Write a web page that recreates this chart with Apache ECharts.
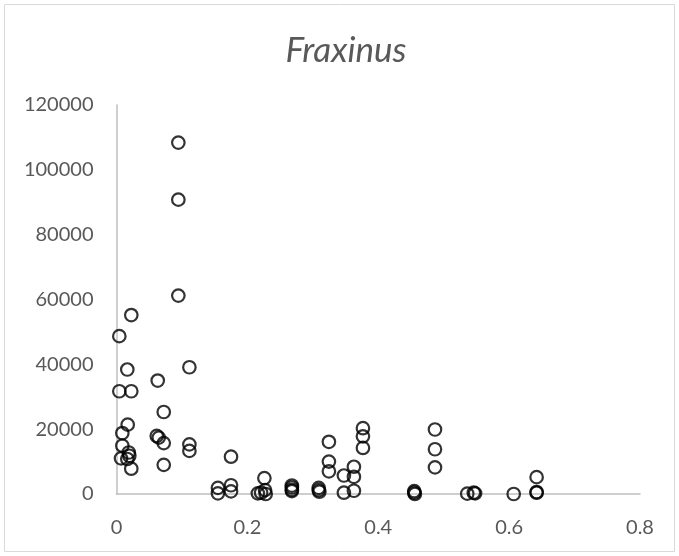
<!DOCTYPE html>
<html>
<head>
<meta charset="utf-8">
<script src="https://cdn.jsdelivr.net/npm/echarts@6/dist/echarts.min.js"></script>
<style>
  html, body { margin: 0; padding: 0; background: #fff; }
  #chart { width: 679px; height: 556px; }
</style>
</head>
<body>
<div id="chart"></div>
<script>
// Fraxinus: one x value and one y value per sample
const xValues = [
  0.0945, 0.0945, 0.0945, 0.0226, 0.0043, 0.0165, 0.1114, 0.063, 0.0043, 0.0226,
  0.0722, 0.0171, 0.0089, 0.0615, 0.0646, 0.0722, 0.1114, 0.1114, 0.0089, 0.0187,
  0.0196, 0.0069, 0.0165, 0.0226, 0.0722, 0.175,
  0.155, 0.155, 0.175, 0.175,
  0.216, 0.221, 0.227, 0.228, 0.226,
  0.268, 0.268, 0.268, 0.268,
  0.309, 0.309, 0.31,
  0.3246, 0.3246, 0.3246,
  0.3475, 0.3475,
  0.3628, 0.3628, 0.3628,
  0.3766, 0.3766, 0.3766,
  0.455, 0.455, 0.456,
  0.4867, 0.4867, 0.4867,
  0.536, 0.546, 0.548,
  0.607,
  0.642, 0.642, 0.642
];
const yValues = [
  108400, 90800, 61200, 55200, 48700, 38400, 39100, 35000, 31700, 31700,
  25300, 21400, 18800, 17900, 17400, 15700, 15300, 13300, 14900, 12800,
  11800, 11000, 10800, 7800, 9000, 11500,
  1900, 200, 2700, 800,
  200, 400, 1200, 0, 4900,
  2600, 2000, 1300, 900,
  1900, 1200, 700,
  16100, 10000, 7000,
  5700, 400,
  8400, 5300, 1000,
  20300, 17800, 14200,
  900, 400, 0,
  19900, 13800, 8200,
  100, 400, 200,
  0,
  5200, 600, 400
];
const titleText = 'Fraxinus';

const points = xValues.map((x, i) => [x, yValues[i]]);
const textColor = '#595959';
const axisColor = '#bfbfbf';
const fontFamily = 'Lato, "Open Sans", sans-serif';

const chart = echarts.init(document.getElementById('chart'), null, { renderer: 'canvas' });
chart.setOption({
  backgroundColor: '#ffffff',
  animation: false,
  title: {
    text: titleText,
    left: 341,
    textAlign: 'center',
    top: 28,
    textStyle: {
      color: textColor,
      fontSize: 35,
      fontStyle: 'italic',
      fontWeight: 'normal',
      fontFamily: fontFamily
    }
  },
  graphic: [{
    type: 'rect',
    shape: { x: 4.5, y: 4.5, width: 670, height: 547 },
    style: { fill: 'none', stroke: '#d9d9d9', lineWidth: 1 },
    silent: true
  }],
  grid: { left: 116.5, right: 39, top: 105, bottom: 62, containLabel: false },
  xAxis: {
    type: 'value',
    min: 0,
    max: 0.8,
    interval: 0.2,
    axisLine: { show: true, onZero: false, lineStyle: { color: axisColor, width: 1.5 } },
    axisTick: { show: false },
    splitLine: { show: false },
    axisLabel: { color: textColor, fontSize: 20, fontFamily: fontFamily, margin: 24 }
  },
  yAxis: {
    type: 'value',
    min: 0,
    max: 120000,
    interval: 20000,
    axisLine: { show: true, lineStyle: { color: axisColor, width: 1.5 } },
    axisTick: { show: false },
    splitLine: { show: false },
    axisLabel: {
      color: textColor, fontSize: 20, fontFamily: fontFamily, margin: 23,
      formatter: (v) => String(v)
    }
  },
  series: [{
    type: 'scatter',
    data: points,
    symbol: 'circle',
    symbolSize: 12.5,
    itemStyle: { color: 'rgba(0,0,0,0)', borderColor: '#000000', borderWidth: 2.2 }
  }]
});
</script>
</body>
</html>
